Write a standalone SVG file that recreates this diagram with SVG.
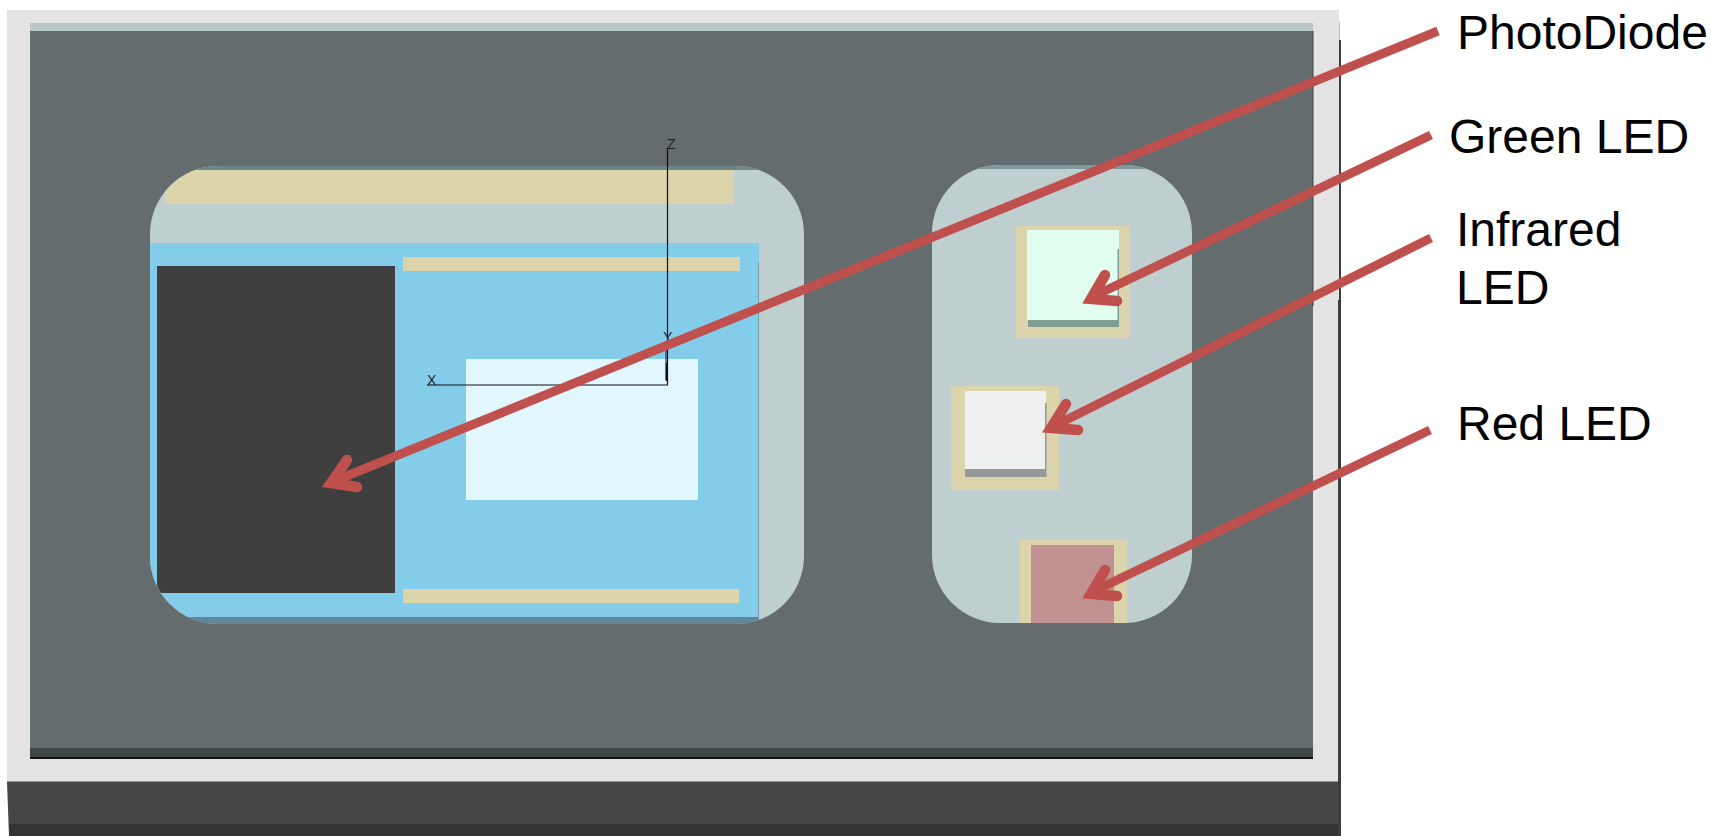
<svg xmlns="http://www.w3.org/2000/svg" width="1711" height="836" viewBox="0 0 1711 836">
<defs>
<clipPath id="lw"><rect x="150" y="166" width="654" height="458" rx="68"/></clipPath>
<clipPath id="rw"><rect x="932" y="165" width="260" height="458" rx="68"/></clipPath>
<style>
.y{fill:#dcd4ab}
.w{fill:#bfcfd0}
.e{fill:#6f8586}
.ln{stroke:#c0504d;stroke-width:9;fill:none}
.hd{stroke:#c0504d;stroke-width:10.5;fill:none;stroke-linecap:round;stroke-linejoin:miter;stroke-miterlimit:6}
.lb{font-family:"Liberation Sans",Arial,sans-serif;font-size:48px;fill:#000}
.ax{font-family:"Liberation Sans",Arial,sans-serif;font-size:14px;fill:#223}
</style>
</defs>
<rect width="1711" height="836" fill="#fff"/>
<g id="body">
<path d="M7 782H1339V836H9Z" fill="#464646"/>
<path d="M9 824H1339V836H10Z" fill="#333"/>
<rect x="1338" y="22" width="1.5" height="20" fill="#777"/>
<rect x="1338" y="40" width="3" height="796" fill="#3d3d3d"/>
<path d="M7 10H1339V300H1338V782H7Z" fill="#e3e3e3"/>
<rect x="7" y="781" width="1331" height="1" fill="#999"/>
<rect x="30" y="23" width="1283" height="10" fill="#b9c7c6"/>
<rect x="30" y="31" width="1283" height="727" fill="#646c6d"/>
<rect x="30" y="748" width="1283" height="10" fill="#3f4747"/>
<rect x="30" y="757" width="1283" height="2" fill="#111"/>
<rect x="1312.5" y="31" width="1" height="275" fill="#444"/>
</g>
<g id="left-window">
<g clip-path="url(#lw)">
<rect x="150" y="166" width="654" height="458" class="w"/>
<rect x="150" y="166" width="654" height="4" class="e"/>
<rect x="165" y="170" width="569" height="34" class="y"/>
<rect x="150" y="243" width="609" height="374" fill="#84cdea"/>
<rect x="150" y="617" width="609" height="7" fill="#5f8797"/>
<rect x="758" y="262" width="1" height="362" fill="#6f9aa8"/>
<rect x="157" y="266" width="238" height="327" fill="#3f3f3f"/>
</g>
<rect x="403" y="257" width="337" height="14" class="y"/>
<rect x="403" y="589" width="336" height="14" class="y"/>
<rect x="466" y="359" width="232" height="141" fill="#e2f6fe"/>
</g>
<g id="axes" fill="none" stroke="#111" stroke-width="1.2">
<path d="M667.5 148V385H427"/>
<path d="M666 350V380" stroke-width="1"/>
<path d="M666.8 363V381" stroke-width="2"/>
<text class="ax" x="667" y="149" stroke="none">Z</text>
<text class="ax" x="663" y="342" stroke="none">Y</text>
<text class="ax" x="427" y="385" stroke="none">X</text>
</g>
<g id="right-window">
<g clip-path="url(#rw)">
<rect x="932" y="165" width="260" height="458" class="w"/>
<rect x="932" y="165" width="260" height="4" fill="#7f9a9a"/>
</g>
</g>
<g id="green-led">
<rect x="1016" y="226" width="114" height="112" class="y"/>
<rect x="1028" y="320" width="90" height="7" fill="#7f9f92"/>
<rect x="1027" y="230" width="92" height="90" fill="#e1fdef"/>
<rect x="1117.5" y="249" width="1.5" height="78" fill="#7f9f92"/>
</g>
<g id="infrared-led">
<rect x="951" y="386" width="108" height="104" class="y"/>
<rect x="965" y="469" width="81" height="8" fill="#96999b"/>
<rect x="965" y="391" width="81" height="78" fill="#eef0ef"/>
<rect x="1045" y="403" width="1.5" height="74" fill="#96999b"/>
</g>
<g id="red-led">
<rect x="1020" y="540" width="107" height="83" class="y"/>
<rect x="1031" y="545" width="83" height="78" fill="#c19191"/>
</g>
<g id="connectors">
<path class="ln" d="M1438 31L332 482"/>
<path class="hd" d="M347 460L331 483L357 487"/>
<path class="ln" d="M1431 135L1092 297"/>
<path class="hd" d="M1105 275L1091 299L1117 301"/>
<path class="ln" d="M1431 238L1052 427"/>
<path class="hd" d="M1066 404L1051 428L1078 430"/>
<path class="ln" d="M1430 430L1092 592"/>
<path class="hd" d="M1105 570L1091 594L1117 596"/>
</g>
<g id="labels">
<text class="lb" x="1457" y="49">PhotoDiode</text>
<text class="lb" x="1449" y="153">Green LED</text>
<text class="lb" x="1456" y="246">Infrared</text>
<text class="lb" x="1456" y="304">LED</text>
<text class="lb" x="1457" y="440">Red LED</text>
</g>
</svg>
